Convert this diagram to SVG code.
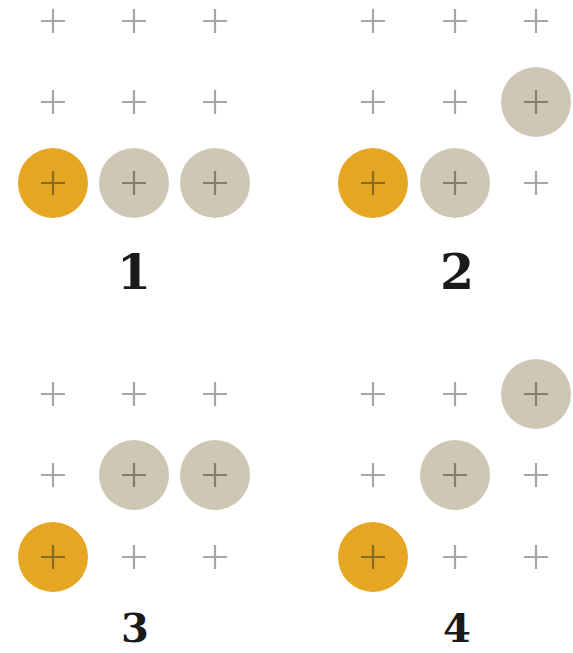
<svg xmlns="http://www.w3.org/2000/svg" width="573" height="653" viewBox="0 0 573 653">
<defs>
<style>
.orange{fill:#E4A623}
.gray{fill:#CEC7B3}
.x{stroke:#A6A6A6;stroke-width:2.2;fill:none}
.xo{stroke:#8A6A22;stroke-width:2.2;fill:none}
.xg{stroke:#857D6C;stroke-width:2.2;fill:none}
.lbl{font-family:"DejaVu Serif","Liberation Serif",serif;font-weight:bold;fill:#1A1A1A;text-anchor:middle}
</style>
<path id="cr" d="M-12 0H12M0 -12V12"/>
</defs>
<rect width="573" height="653" fill="#FFFFFF"/>
<g id="panel1">
<use href="#cr" class="x" x="53" y="21"/><use href="#cr" class="x" x="134" y="21"/><use href="#cr" class="x" x="215" y="21"/>
<use href="#cr" class="x" x="53" y="102"/><use href="#cr" class="x" x="134" y="102"/><use href="#cr" class="x" x="215" y="102"/>
<circle class="orange" cx="53" cy="183" r="35"/><use href="#cr" class="xo" x="53" y="183"/>
<circle class="gray" cx="134" cy="183" r="35"/><use href="#cr" class="xg" x="134" y="183"/>
<circle class="gray" cx="215" cy="183" r="35"/><use href="#cr" class="xg" x="215" y="183"/>
<text class="lbl" x="134" y="289" font-size="49">1</text>
</g>
<g id="panel2">
<use href="#cr" class="x" x="373" y="21"/><use href="#cr" class="x" x="455" y="21"/><use href="#cr" class="x" x="536" y="21"/>
<use href="#cr" class="x" x="373" y="102"/><use href="#cr" class="x" x="455" y="102"/>
<circle class="gray" cx="536" cy="102" r="35"/><use href="#cr" class="xg" x="536" y="102"/>
<circle class="orange" cx="373" cy="183" r="35"/><use href="#cr" class="xo" x="373" y="183"/>
<circle class="gray" cx="455" cy="183" r="35"/><use href="#cr" class="xg" x="455" y="183"/>
<use href="#cr" class="x" x="536" y="183"/>
<text class="lbl" x="457" y="289" font-size="49">2</text>
</g>
<g id="panel3">
<use href="#cr" class="x" x="53" y="394"/><use href="#cr" class="x" x="134" y="394"/><use href="#cr" class="x" x="215" y="394"/>
<use href="#cr" class="x" x="53" y="475"/>
<circle class="gray" cx="134" cy="475" r="35"/><use href="#cr" class="xg" x="134" y="475"/>
<circle class="gray" cx="215" cy="475" r="35"/><use href="#cr" class="xg" x="215" y="475"/>
<circle class="orange" cx="53" cy="557" r="35"/><use href="#cr" class="xo" x="53" y="557"/>
<use href="#cr" class="x" x="134" y="557"/><use href="#cr" class="x" x="215" y="557"/>
<text class="lbl" x="135" y="642" font-size="40">3</text>
</g>
<g id="panel4">
<use href="#cr" class="x" x="373" y="394"/><use href="#cr" class="x" x="455" y="394"/>
<circle class="gray" cx="536" cy="394" r="35"/><use href="#cr" class="xg" x="536" y="394"/>
<use href="#cr" class="x" x="373" y="475"/>
<circle class="gray" cx="455" cy="475" r="35"/><use href="#cr" class="xg" x="455" y="475"/>
<use href="#cr" class="x" x="536" y="475"/>
<circle class="orange" cx="373" cy="557" r="35"/><use href="#cr" class="xo" x="373" y="557"/>
<use href="#cr" class="x" x="455" y="557"/><use href="#cr" class="x" x="536" y="557"/>
<text class="lbl" x="457" y="642" font-size="40">4</text>
</g>
<g id="connectors"/>
</svg>
